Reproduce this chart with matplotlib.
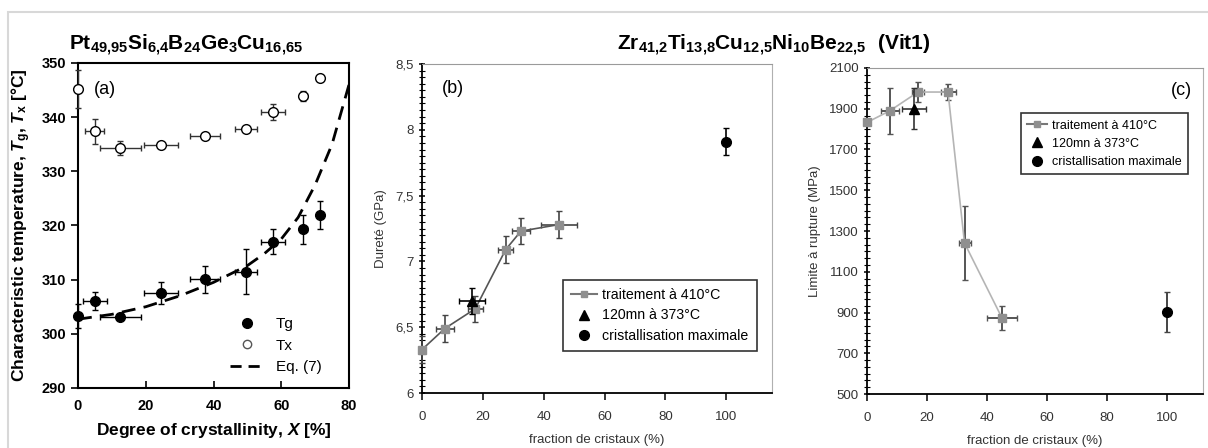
import numpy as np
import matplotlib
matplotlib.use("Agg")
import matplotlib.pyplot as plt
from matplotlib.ticker import MultipleLocator, FuncFormatter
from matplotlib.lines import Line2D
from matplotlib.patches import Rectangle

plt.rcParams['font.family'] = ['Liberation Sans', 'DejaVu Sans']
plt.rcParams['mathtext.fontset'] = 'custom'
plt.rcParams['mathtext.rm'] = 'Liberation Sans:bold'
plt.rcParams['mathtext.bf'] = 'Liberation Sans:bold'
plt.rcParams['mathtext.it'] = 'Liberation Sans:bold:italic'

# ---- panel (a) data: Pt-based glass ----
tg_x = [0, 5, 12.5, 24.5, 37.5, 49.5, 57.5, 66.5, 71.5]
tg_y = [303.3, 306.1, 303.1, 307.5, 310.1, 311.5, 317.0, 319.3, 322.0]
tg_xerr = [0, 3.5, 6, 5, 4.5, 3.3, 3.5, 1, 0]
tg_yerr = [2.2, 1.7, 0.3, 2.0, 2.5, 4.2, 2.3, 2.7, 2.6]

tx_x = [0, 5, 12.5, 24.5, 37.5, 49.5, 57.5, 66.5, 71.5]
tx_y = [345.2, 337.4, 334.3, 334.8, 336.5, 337.8, 341.0, 343.9, 347.2]
tx_xerr = [0, 2.8, 6, 5, 4.5, 3.3, 3.5, 1, 0]
tx_yerr = [3.5, 2.3, 1.3, 0.5, 0.5, 0.6, 1.5, 1.0, 0]

eq7_x = [0, 10, 20, 30, 40, 50, 55, 60, 65, 70, 75, 80]
eq7_y = [302.7, 303.6, 305.0, 307.0, 309.5, 312.6, 314.8, 317.5, 321.5, 327.5, 335.0, 346.0]

# ---- panel (b) data: hardness of Vit1 ----
b_x = [0, 7.5, 17.5, 27.5, 32.5, 45]
b_y = [6.33, 6.49, 6.64, 7.09, 7.23, 7.28]
b_xerr = [0, 3, 2.5, 2.5, 3, 6]
b_yerr = [0.1, 0.1, 0.1, 0.1, 0.1, 0.1]
b_tri = (16.5, 6.70, 4.2, 0.1)
b_max = (100, 7.91, 0, 0.1)

# ---- panel (c) data: fracture strength of Vit1 ----
c_x = [0, 7.5, 17, 27, 32.5, 45]
c_y = [1833, 1889, 1982, 1982, 1241, 873]
c_xerr = [0, 3, 2, 2.5, 2, 5]
c_yerr = [0, 115, 50, 40, 180, 60]
c_tri = (15.7, 1900, 4, 100)
c_max = (100, 902, 0, 100)
c_yticks = [500, 700, 900, 1100, 1300, 1500, 1700, 1900, 2100]

W, H = 1208, 448
fig = plt.figure(figsize=(W / 100, H / 100), dpi=100)
fig.patches.append(Rectangle((8 / W, -0.01), 1.1, 1 - 12 / H + 0.01, transform=fig.transFigure,
                             fill=False, edgecolor='#d8d8d8', lw=1.5))

# ================= (a) =================
ax1 = fig.add_axes([78 / W, 1 - 388 / H, 271 / W, 325 / H])
ax1.plot(eq7_x, eq7_y, color='black', lw=2, dashes=(5, 3), zorder=2)
ax1.errorbar(tg_x, tg_y, xerr=tg_xerr, yerr=tg_yerr, fmt='o', color='black', ms=7,
             ecolor='black', elinewidth=1, capsize=2.5, zorder=3, clip_on=False)
ax1.errorbar(tx_x, tx_y, xerr=tx_xerr, yerr=tx_yerr, fmt='o', mfc='white', mec='black', ms=7,
             ecolor='#333333', elinewidth=1, capsize=2.5, zorder=3, clip_on=False)
ax1.set_xlim(0, 80)
ax1.set_ylim(290, 350)
ax1.xaxis.set_major_locator(MultipleLocator(20))
ax1.yaxis.set_major_locator(MultipleLocator(10))
ax1.tick_params(axis='x', direction='in', length=5, width=1.2, labelsize=10.5, pad=8)
ax1.tick_params(axis='y', direction='out', length=5, width=1.2, labelsize=10.5)
for lab in ax1.get_xticklabels() + ax1.get_yticklabels():
    lab.set_fontweight('bold')
for s in ax1.spines.values():
    s.set_linewidth(1.5)
ax1.set_xlabel('Degree of crystallinity, $X$ [%]', fontsize=12.5, fontweight='bold', labelpad=6)
ax1.set_ylabel('Characteristic temperature, $T_\\mathrm{g}$, $T_\\mathrm{x}$ [°C]',
               fontsize=12.5, fontweight='bold', labelpad=6)
ax1.text(0.06, 0.92, '(a)', transform=ax1.transAxes, fontsize=13, va='center')
h_a = [Line2D([], [], ls='none', marker='o', color='black', ms=7),
       Line2D([], [], ls='none', marker='o', mfc='white', mec='#555555', ms=6),
       Line2D([], [], color='black', lw=2, dashes=(4, 2.5))]
ax1.legend(h_a, ['Tg', 'Tx', 'Eq. (7)'], loc='lower right', bbox_to_anchor=(0.95, 0.0),
           frameon=False, fontsize=11, handlelength=2.2, labelspacing=0.5)

fig.text(186 / W, 1 - 45 / H,
         'Pt$_{\\mathrm{49{,}95}}$Si$_{\\mathrm{6{,}4}}$B$_{\\mathrm{24}}$Ge$_{\\mathrm{3}}$Cu$_{\\mathrm{16{,}65}}$',
         fontsize=15, fontweight='bold', ha='center', va='center')
fig.text(774 / W, 1 - 45 / H,
         'Zr$_{\\mathrm{41{,}2}}$Ti$_{\\mathrm{13{,}8}}$Cu$_{\\mathrm{12{,}5}}$Ni$_{\\mathrm{10}}$Be$_{\\mathrm{22{,}5}}$  (Vit1)',
         fontsize=15, fontweight='bold', ha='center', va='center')

grey_m = '#8f8f8f'
comma = FuncFormatter(lambda v, p: f'{v:g}'.replace('.', ','))


def style_vit(ax):
    ax.spines['top'].set_color('#9a9a9a')
    ax.spines['right'].set_color('#b0b0b0')
    ax.spines['left'].set_linewidth(1.3)
    ax.spines['bottom'].set_linewidth(1.3)
    ax.xaxis.set_major_locator(MultipleLocator(20))
    ax.tick_params(axis='both', which='major', labelsize=9.5, labelcolor='#333333', length=5, width=1.1)
    ax.tick_params(axis='y', which='both', direction='inout')
    ax.tick_params(axis='y', which='minor', length=4, width=0.8)
    ax.tick_params(axis='x', direction='out', pad=8)
    ax.set_xlabel('fraction de cristaux (%)', fontsize=9.5, color='#333333', labelpad=8)


# ================= (b) =================
ax2 = fig.add_axes([422 / W, 1 - 393 / H, 350 / W, 329 / H])
ax2.errorbar(b_x, b_y, xerr=b_xerr, yerr=b_yerr, fmt='s-', color='#555555', mfc=grey_m, mec=grey_m,
             ms=6, lw=1.2, ecolor='#444444', elinewidth=1.2, capsize=2.5, zorder=3, clip_on=False)
ax2.errorbar([b_tri[0]], [b_tri[1]], xerr=[b_tri[2]], yerr=[b_tri[3]], fmt='^', color='black', ms=7,
             ecolor='black', elinewidth=1.2, capsize=2.5, zorder=4)
ax2.errorbar([b_max[0]], [b_max[1]], yerr=[b_max[3]], fmt='o', color='black', ms=7,
             ecolor='black', elinewidth=1.2, capsize=2.5, zorder=4)
ax2.set_xlim(0, 115)
ax2.set_ylim(6, 8.5)
ax2.yaxis.set_major_locator(MultipleLocator(0.5))
ax2.yaxis.set_minor_locator(MultipleLocator(0.05))
ax2.yaxis.set_major_formatter(comma)
style_vit(ax2)
ax2.set_ylabel('Dureté (GPa)', fontsize=9.5, color='#333333', labelpad=6)
ax2.text(0.057, 0.927, '(b)', transform=ax2.transAxes, fontsize=13, va='center')
h_v = [Line2D([], [], color='#777777', lw=1.5, marker='s', mfc=grey_m, mec=grey_m, ms=5),
       Line2D([], [], ls='none', marker='^', color='black', ms=7),
       Line2D([], [], ls='none', marker='o', color='black', ms=7)]
lab_v = ['traitement à 410°C', '120mn à 373°C', 'cristallisation maximale']
lg2 = ax2.legend(h_v, lab_v, loc='lower right', bbox_to_anchor=(0.978, 0.105), fontsize=10.2,
                 fancybox=False, edgecolor='black', handlelength=1.8, handletextpad=0.4,
                 borderpad=0.6, labelspacing=0.45)
lg2.get_frame().set_linewidth(1.2)

# ================= (c) =================
ax3 = fig.add_axes([867 / W, 1 - 394 / H, 336 / W, 326 / H])
ax3.errorbar(c_x, c_y, xerr=c_xerr, yerr=c_yerr, fmt='s-', color='#b5b5b5', mfc=grey_m, mec=grey_m,
             ms=6, lw=1.2, ecolor='#555555', elinewidth=1.4, capsize=2.5, zorder=3, clip_on=False)
ax3.errorbar([c_tri[0]], [c_tri[1]], xerr=[c_tri[2]], yerr=[c_tri[3]], fmt='^', color='black', ms=7,
             ecolor='#333333', elinewidth=1.2, capsize=2.5, zorder=4)
ax3.errorbar([c_max[0]], [c_max[1]], yerr=[c_max[3]], fmt='o', color='black', ms=7,
             ecolor='#444444', elinewidth=1.4, capsize=2.5, zorder=4)
ax3.set_xlim(0, 112)
ax3.set_ylim(500, 2100)
ax3.set_yticks(c_yticks)
ax3.yaxis.set_minor_locator(MultipleLocator(200 / 6))
style_vit(ax3)
ax3.set_ylabel('Limite à rupture (MPa)', fontsize=9.5, color='#333333', labelpad=6)
ax3.text(0.967, 0.93, '(c)', transform=ax3.transAxes, fontsize=13, va='center', ha='right')
lg3 = ax3.legend(h_v, lab_v, loc='upper right', bbox_to_anchor=(0.975, 0.88), fontsize=9,
                 fancybox=False, edgecolor='black', handlelength=1.6, handletextpad=0.4,
                 borderpad=0.5, labelspacing=0.5)
lg3.get_frame().set_linewidth(1.2)

fig.savefig('out.png', dpi=100, facecolor='white')
